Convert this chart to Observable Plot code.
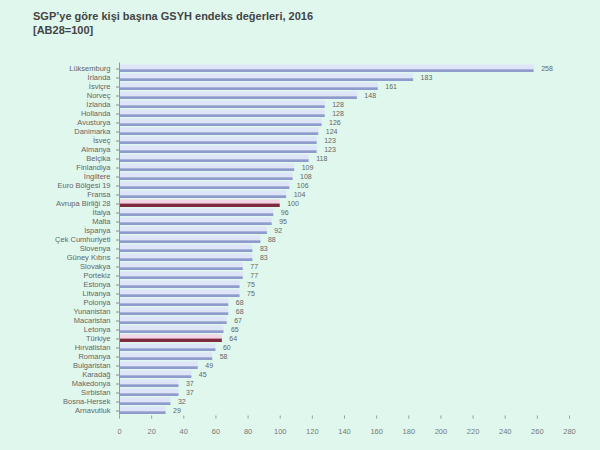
<!DOCTYPE html>
<html>
<head>
<meta charset="utf-8">
<script src="https://cdn.jsdelivr.net/npm/d3@7"></script>
<script src="https://cdn.jsdelivr.net/npm/@observablehq/plot@0.6"></script>
<style>
  html, body { margin: 0; padding: 0; background: #dff7ed; }
  #wrap { width: 600px; height: 450px; background: #dff7ed; overflow: hidden; }
  #title { height: 44px; box-sizing: border-box; padding: 9px 0 0 33px;
    font-family: "Liberation Sans", Arial, sans-serif; font-weight: bold; font-size: 11px;
    line-height: 14px; color: #444; }
  svg { display: block; }
</style>
</head>
<body>
<div id="wrap">
  <div id="title">SGP’ye göre kişi başına GSYH endeks değerleri, 2016<br>[AB28=100]</div>
  <div id="chart"></div>
</div>
<script>
const countries = ["Lüksemburg","İrlanda","İsviçre","Norveç","İzlanda","Hollanda","Avusturya","Danimarka","İsveç","Almanya","Belçika","Finlandiya","İngiltere","Euro Bölgesi 19","Fransa","Avrupa Birliği 28","İtalya","Malta","İspanya","Çek Cumhuriyeti","Slovenya","Güney Kıbrıs","Slovakya","Portekiz","Estonya","Litvanya","Polonya","Yunanistan","Macaristan","Letonya","Türkiye","Hırvatistan","Romanya","Bulgaristan","Karadağ","Makedonya","Sırbistan","Bosna-Hersek","Arnavutluk"];
const values = [258,183,161,148,128,128,126,124,123,123,118,109,108,106,104,100,96,95,92,88,83,83,77,77,75,75,68,68,67,65,64,60,58,49,45,37,37,32,29];
const highlighted = ["Avrupa Birliği 28","Türkiye"];
const xTicks = [0,20,40,60,80,100,120,140,160,180,200,220,240,260,280];

const data = countries.map((c, i) => ({country: c, value: values[i], hi: highlighted.includes(c)}));
const normal = data.filter(d => !d.hi);
const hi = data.filter(d => d.hi);

const chart = Plot.plot({
  width: 600,
  height: 406,
  marginLeft: 119,
  marginRight: 31,
  marginTop: 18.5,
  marginBottom: 34.5,
  style: {background: "transparent", fontFamily: "'Liberation Sans', Arial, sans-serif", color: "#666"},
  x: {domain: [0, 280], axis: null, label: null},
  y: {domain: countries, padding: 0, axis: null, label: null},
  marks: [
    Plot.barX(normal, {y: "country", x: "value", fill: "#dfe5f8", insetTop: 0.5, insetBottom: 3.5}),
    Plot.barX(normal, {y: "country", x: "value", fill: "#8f9bcc", insetTop: 5.3, insetBottom: 1}),
    Plot.barX(hi, {y: "country", x: "value", fill: "#f2d6e6", insetTop: 0.5, insetBottom: 3.5}),
    Plot.barX(hi, {y: "country", x: "value", fill: "#7e2b40", insetTop: 4.6, insetBottom: 1}),
    Plot.text(data, {y: "country", x: "value", text: d => String(d.value), dx: 7, textAnchor: "start", fontSize: 7, fill: "#666"}),
    Plot.axisY({tickSize: 3, tickPadding: 6, fontSize: 7.5, stroke: "#888", fill: "#666", label: null}),
    Plot.ruleX([0], {stroke: "#999", strokeWidth: 1}),
    Plot.ruleY([0], {stroke: "#999", strokeWidth: 1}),
    Plot.axisX({ticks: xTicks, tickSize: 3, tickPadding: 10, fontSize: 7.5, stroke: "#999", fill: "#777", label: null, tickFormat: d => String(d)})
  ]
});
document.getElementById("chart").appendChild(chart);
</script>
</body>
</html>
